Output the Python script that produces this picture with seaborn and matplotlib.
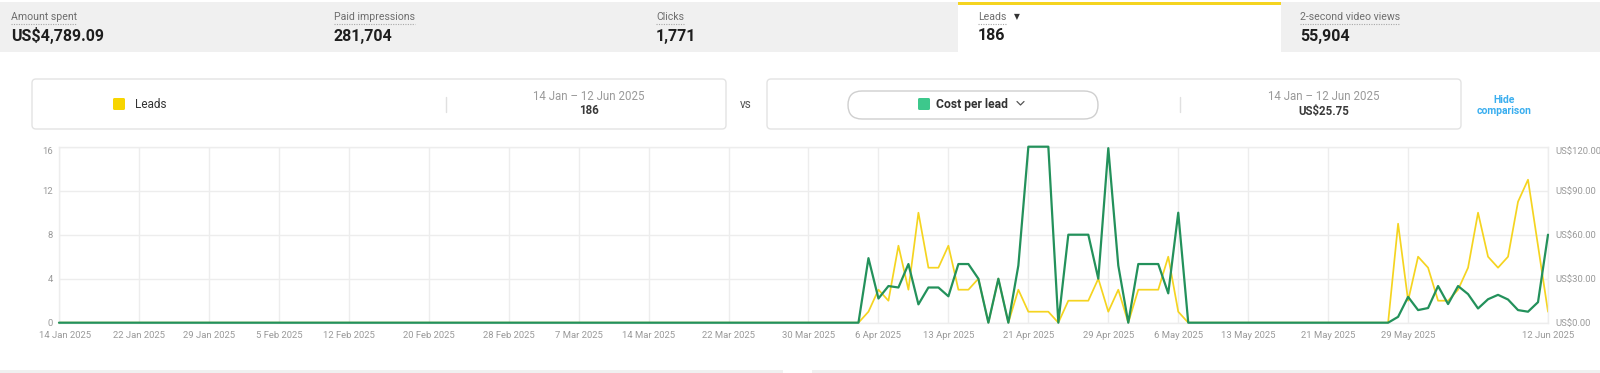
import numpy as np
import pandas as pd
import matplotlib.pyplot as plt
import matplotlib.transforms as mtransforms
from matplotlib.patches import Rectangle, FancyBboxPatch
from matplotlib.lines import Line2D
import seaborn as sns

sns.set_style("white")
plt.rcParams["font.family"] = ["Roboto", "DejaVu Sans"]

# ---- data (daily, 14 Jan - 12 Jun 2025) ----
dates = pd.date_range("2025-01-14", "2025-06-12", freq="D")

leads = [
    0, 0, 0, 0, 0, 0, 0, 0, 0, 0,
    0, 0, 0, 0, 0, 0, 0, 0, 0, 0,
    0, 0, 0, 0, 0, 0, 0, 0, 0, 0,
    0, 0, 0, 0, 0, 0, 0, 0, 0, 0,
    0, 0, 0, 0, 0, 0, 0, 0, 0, 0,
    0, 0, 0, 0, 0, 0, 0, 0, 0, 0,
    0, 0, 0, 0, 0, 0, 0, 0, 0, 0,
    0, 0, 0, 0, 0, 0, 0, 0, 0, 0,
    0, 1, 3, 2, 7, 3, 10, 5, 5, 7,
    3, 3, 4, 0, 4, 0, 3, 1, 1, 1,
    0, 2, 2, 2, 4, 1, 3, 0, 3, 3,
    3, 6, 1, 0, 0, 0, 0, 0, 0, 0,
    0, 0, 0, 0, 0, 0, 0, 0, 0, 0,
    0, 0, 0, 0, 9, 2, 6, 5, 2, 2,
    3, 5, 10, 6, 5, 6, 11, 13, 7, 1,
]

cost_per_lead = [
    0, 0, 0, 0, 0, 0, 0, 0, 0, 0,
    0, 0, 0, 0, 0, 0, 0, 0, 0, 0,
    0, 0, 0, 0, 0, 0, 0, 0, 0, 0,
    0, 0, 0, 0, 0, 0, 0, 0, 0, 0,
    0, 0, 0, 0, 0, 0, 0, 0, 0, 0,
    0, 0, 0, 0, 0, 0, 0, 0, 0, 0,
    0, 0, 0, 0, 0, 0, 0, 0, 0, 0,
    0, 0, 0, 0, 0, 0, 0, 0, 0, 0,
    0, 44, 16.5, 25, 24, 40, 12.5, 24, 24, 18,
    40, 40, 30, 0, 30, 0, 39, 120, 120, 120,
    0, 60, 60, 60, 30, 119, 39, 0, 40, 40,
    40, 20, 75, 0, 0, 0, 0, 0, 0, 0,
    0, 0, 0, 0, 0, 0, 0, 0, 0, 0,
    0, 0, 0, 0, 4, 17.6, 8.6, 10, 25, 12.7,
    25, 19.5, 9.7, 16, 19, 15.8, 8.6, 7.5, 14, 60,
]

tick_dates = ["2025-01-14", "2025-01-22", "2025-01-29", "2025-02-05", "2025-02-12",
              "2025-02-20", "2025-02-28", "2025-03-07", "2025-03-14", "2025-03-22",
              "2025-03-30", "2025-04-06", "2025-04-13", "2025-04-21", "2025-04-29",
              "2025-05-06", "2025-05-13", "2025-05-21", "2025-05-29", "2025-06-12"]
tick_labels = ["14 Jan 2025", "22 Jan 2025", "29 Jan 2025", "5 Feb 2025", "12 Feb 2025",
               "20 Feb 2025", "28 Feb 2025", "7 Mar 2025", "14 Mar 2025", "22 Mar 2025",
               "30 Mar 2025", "6 Apr 2025", "13 Apr 2025", "21 Apr 2025", "29 Apr 2025",
               "6 May 2025", "13 May 2025", "21 May 2025", "29 May 2025", "12 Jun 2025"]

left_ticks = [0, 4, 8, 12, 16]
left_labels = ["0", "4", "8", "12", "16"]
right_ticks = [0, 30, 60, 90, 120]
right_labels = ["US$0.00", "US$30.00", "US$60.00", "US$90.00", "US$120.00"]

tab_names = ["Amount spent", "Paid impressions", "Clicks", "Leads", "2-second video views"]
tab_values = ["US$4,789.09", "281,704", "1,771", "186", "55,904"]

period = "14 Jan – 12 Jun 2025"
leads_total = "186"
cpl_total = "US$25.75"

# ---- colours ----
yellow = "#F5D420"
green = "#23915B"
grid_c = "#EDEDED"
tick_c = "#9A9A9A"

W, H = 1600, 373
fig = plt.figure(figsize=(16, 3.73), dpi=100)
px = mtransforms.IdentityTransform()


def txt(x, y, s, **kw):
    return fig.text(x, H - y, s, transform=px, **kw)


def rect(x0, y0, x1, y1, **kw):
    fig.add_artist(Rectangle((x0, H - y1), x1 - x0, y1 - y0, transform=px, lw=0, **kw))


def vline(x, y0, y1, **kw):
    fig.add_artist(Line2D([x, x], [H - y0, H - y1], transform=px, **kw))


# ---- header tabs ----
rect(0, 2, W, 52, color="#F0F0F0")
rect(958, 3, 1281, 52, color="white")
rect(958, 2, 1281, 4.5, color=yellow)

tab_x = [11, 334, 656, 978, 1300]
renderer = fig.canvas.get_renderer()
for name, value, x in zip(tab_names, tab_values, tab_x):
    t = txt(x, 17, name, fontsize=7.6, color="#6E6E6E", ha="left", va="center")
    bb = t.get_window_extent(renderer=renderer)
    fig.add_artist(Line2D([bb.x0, bb.x1], [H - 23.5, H - 23.5], transform=px,
                          color="#A8A8A8", lw=0.8, linestyle=(0, (1, 1.2))))
    txt(x, 36, value, fontsize=11.5, fontweight="bold", color="#1E1E1E",
        ha="left", va="center")
txt(1017, 17, "▼", fontsize=5.5, color="#333333", ha="center", va="center",
    family=["DejaVu Sans"])

# ---- comparison boxes ----
for x0, x1 in [(32, 726), (767, 1461)]:
    fig.add_artist(FancyBboxPatch((x0, H - 129), x1 - x0, 50,
                                  boxstyle="round,pad=0,rounding_size=4",
                                  transform=px, fc="white", ec="#E3E3E3", lw=1))

fig.add_artist(FancyBboxPatch((113, H - 110), 12, 12, boxstyle="round,pad=0,rounding_size=1.5",
                              transform=px, fc="#F7D500", ec="none"))
txt(135, 104, "Leads", fontsize=8.5, color="#333333", ha="left", va="center")
vline(446, 97, 112, color="#E0E0E0", lw=1)
txt(589, 97, period, fontsize=8.3, color="#9A9A9A", ha="center", va="center")
txt(589, 111, leads_total, fontsize=8.3, fontweight="bold", color="#3A3A3A",
    ha="center", va="center")
txt(746, 105, "vs", fontsize=8.5, color="#555555", ha="center", va="center")

fig.add_artist(FancyBboxPatch((848, H - 119), 250, 28, boxstyle="round,pad=0,rounding_size=14",
                              transform=px, fc="white", ec="#CFCFCF", lw=1))
fig.add_artist(FancyBboxPatch((918, H - 110), 12, 12, boxstyle="round,pad=0,rounding_size=1.5",
                              transform=px, fc="#3DC88C", ec="none"))
txt(936, 104.5, "Cost per lead", fontsize=8.7, fontweight="bold", color="#333333",
    ha="left", va="center")
fig.add_artist(Line2D([1017, 1020.5, 1024], [H - 101.5, H - 105, H - 101.5], transform=px,
                      color="#555555", lw=0.9))
vline(1180, 97, 112, color="#E0E0E0", lw=1)
txt(1324, 97, period, fontsize=8.3, color="#9A9A9A", ha="center", va="center")
txt(1324, 111, cpl_total, fontsize=8.3, fontweight="bold", color="#3A3A3A",
    ha="center", va="center")
txt(1504, 105.5, "Hide\ncomparison", fontsize=7.5, fontweight="bold", color="#3AAEEF",
    ha="center", va="center", linespacing=1.05)

# bottom strip
rect(0, 370, 783, 373, color="#F0F0F0")
rect(812, 370, W, 373, color="#F0F0F0")

# ---- chart ----
ax = fig.add_axes([59 / W, 1 - 322.7 / H, 1489 / W, 176 / H])
sns.lineplot(x=dates, y=leads, ax=ax, color=yellow, linewidth=1.25, clip_on=False)
ax2 = ax.twinx()
sns.lineplot(x=dates, y=cost_per_lead, ax=ax2, color=green, linewidth=1.6, clip_on=False)

ax.set_xlim(dates[0], dates[-1])
ax.set_ylim(0, 16)
ax2.set_ylim(0, 120)
ax.set_xticks(pd.to_datetime(tick_dates))
ax.set_xticklabels(tick_labels)
ax.set_yticks(left_ticks)
ax.set_yticklabels(left_labels)
ax2.set_yticks(right_ticks)
ax2.set_yticklabels(right_labels)
ax.set_xlabel("")
ax.set_ylabel("")
ax2.set_xlabel("")
ax2.set_ylabel("")

ax.grid(True, color=grid_c, linewidth=1)
ax2.grid(False)
for s in ax.spines.values():
    s.set_color(grid_c)
    s.set_linewidth(1)
for s in ax2.spines.values():
    s.set_visible(False)

ax.tick_params(axis="x", length=0, labelsize=6.8, labelcolor=tick_c, pad=6)
ax.tick_params(axis="y", length=0, labelsize=6.8, labelcolor=tick_c, pad=4.5)
ax2.tick_params(axis="y", length=0, labelsize=6.8, labelcolor=tick_c, pad=5)

# top labels sit just under the top gridline
ax.get_yticklabels()[-1].set_va("top")
ax2.get_yticklabels()[-1].set_va("top")

# first date label is nudged right in the original
first = ax.get_xticklabels()[0]
first.set_transform(first.get_transform()
                    + mtransforms.ScaledTranslation(6 / 100, 0, fig.dpi_scale_trans))

plt.savefig("out.png", dpi=100)
